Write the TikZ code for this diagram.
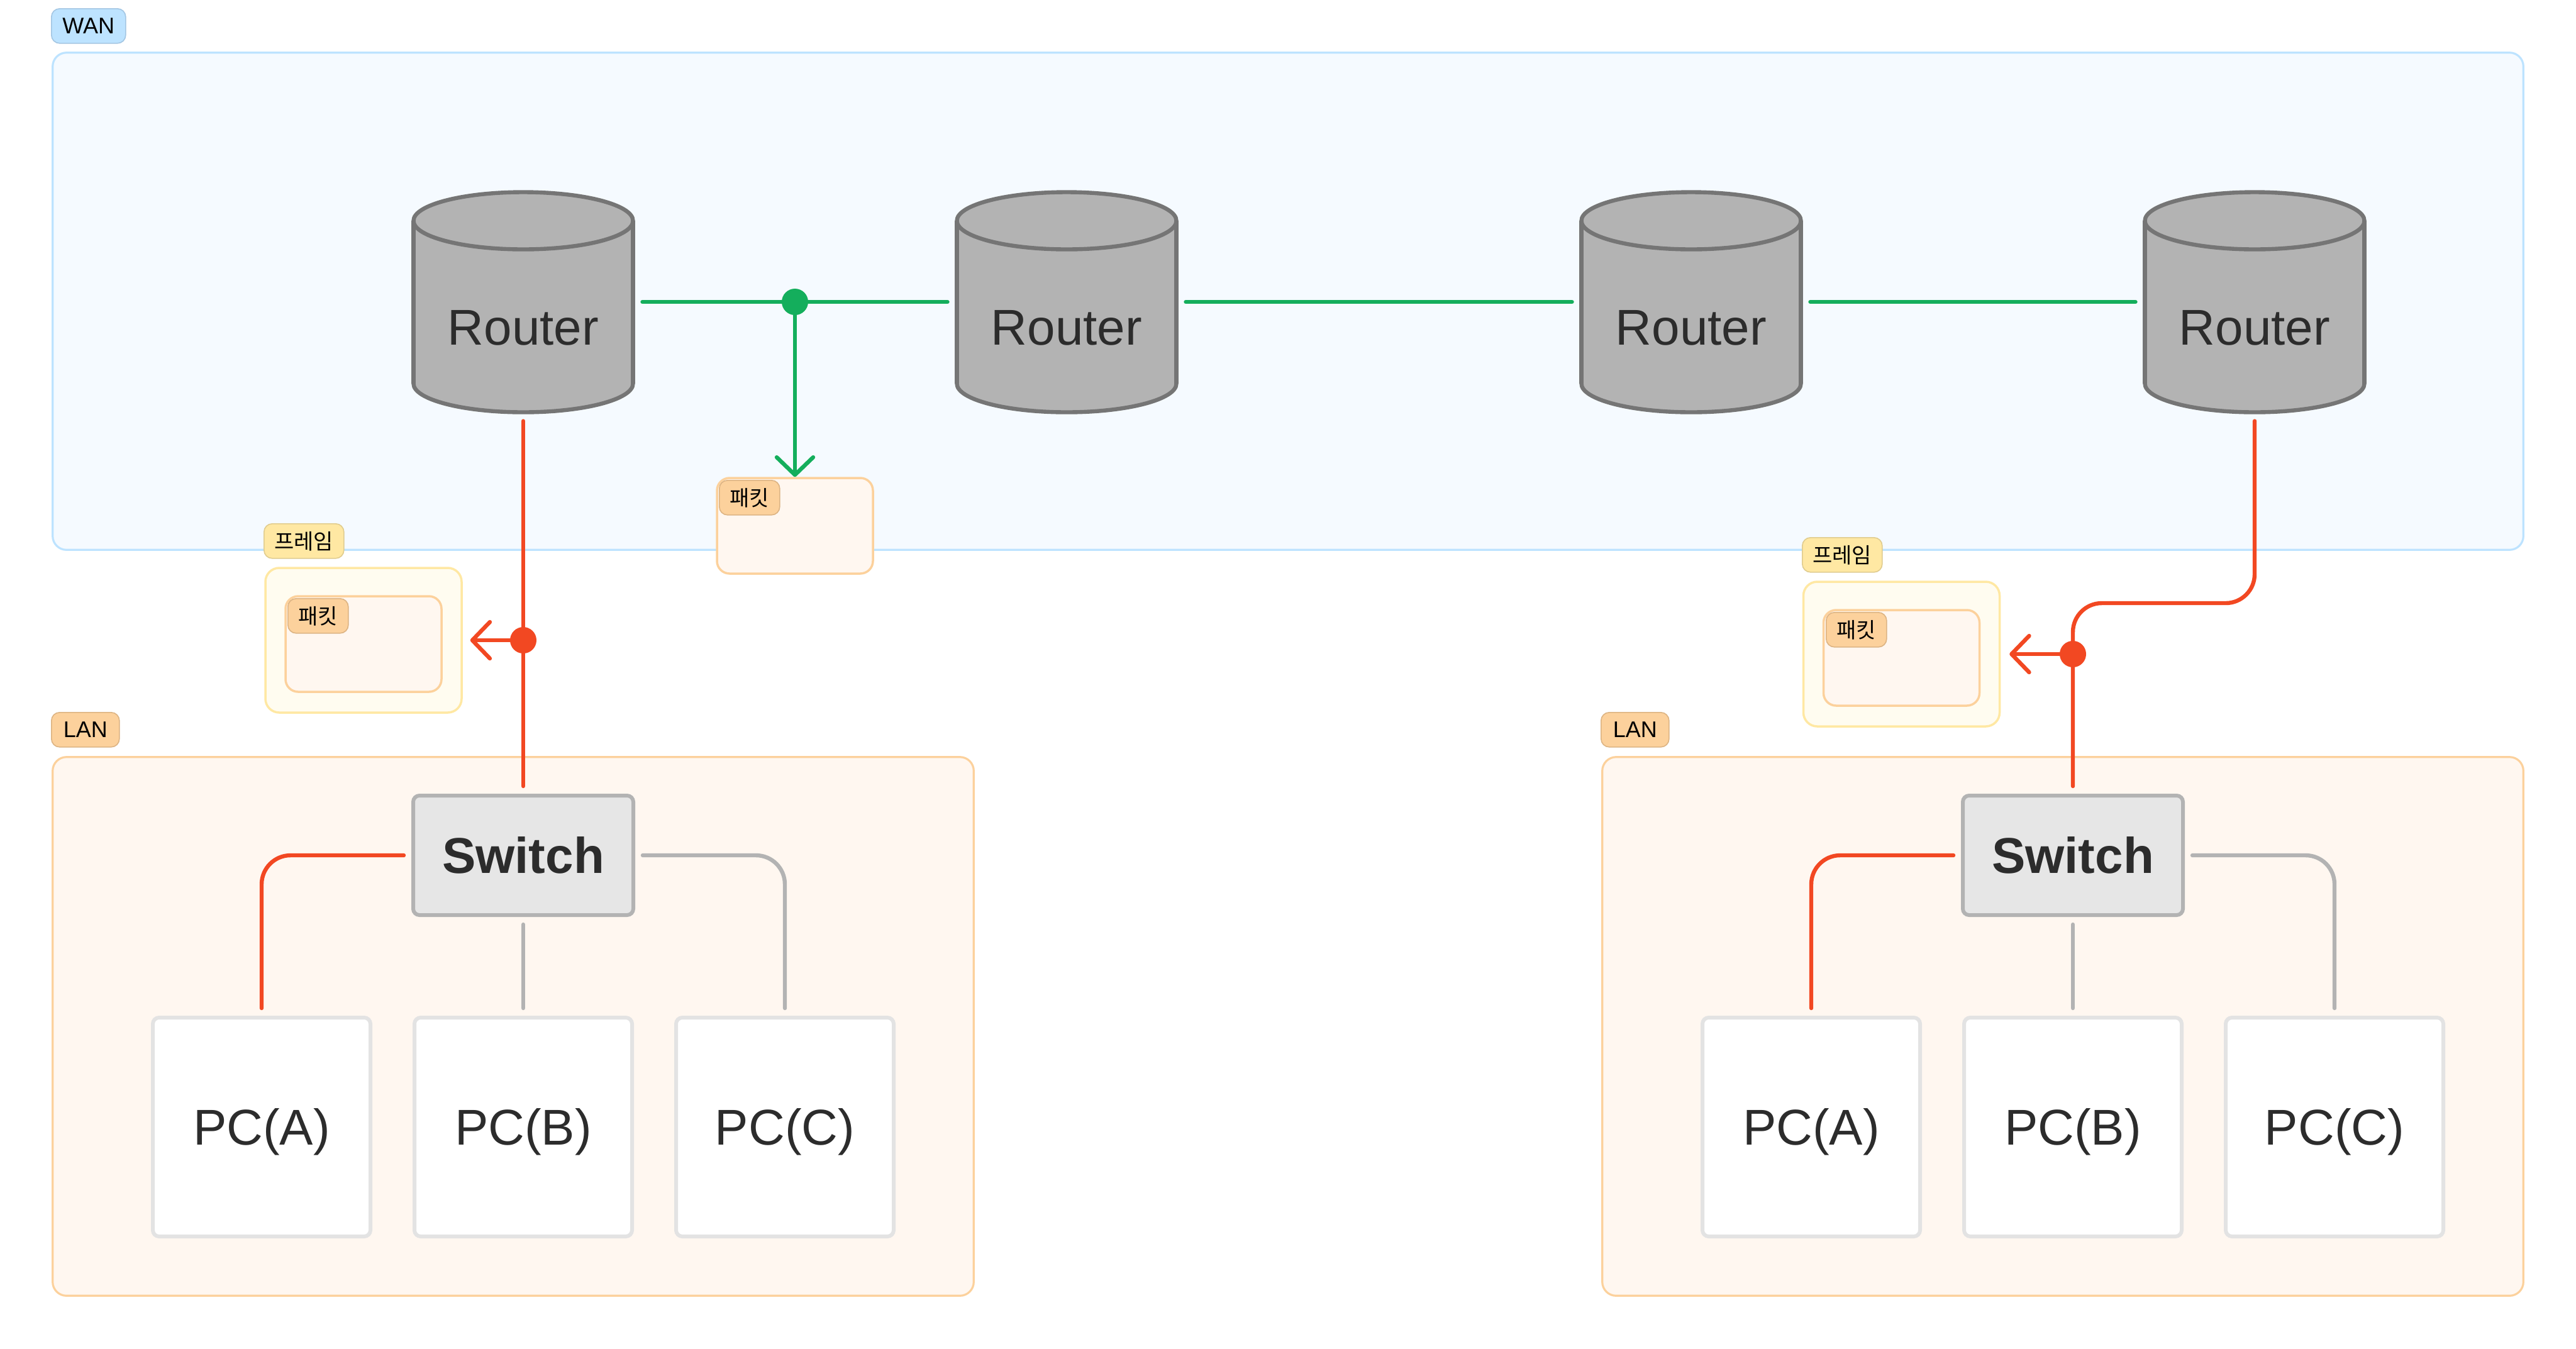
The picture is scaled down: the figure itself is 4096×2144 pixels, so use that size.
\documentclass[tikz,border=0pt]{standalone}
\usepackage{fontspec}
\setmainfont{Liberation Sans}
\newfontfamily\krfont{Noto Sans CJK KR}
\usetikzlibrary{arrows.meta}
\definecolor{wanfill}{HTML}{F5FAFF}
\definecolor{wanline}{HTML}{BDE3FF}
\definecolor{wantagline}{HTML}{A3C6E3}
\definecolor{lanfill}{HTML}{FFF7F0}
\definecolor{lanline}{HTML}{FCD19C}
\definecolor{lantagline}{HTML}{DDB483}
\definecolor{framefill}{HTML}{FFFCF0}
\definecolor{frameline}{HTML}{FFE8A3}
\definecolor{frametagline}{HTML}{E0CC8E}
\definecolor{routerfill}{HTML}{B3B3B3}
\definecolor{routerstroke}{HTML}{757575}
\definecolor{switchfill}{HTML}{E6E6E6}
\definecolor{switchstroke}{HTML}{B3B3B3}
\definecolor{pcstroke}{HTML}{E3E3E3}
\definecolor{linkred}{HTML}{F24822}
\definecolor{linkgreen}{HTML}{14AE5C}
\definecolor{linkgray}{HTML}{B3B3B3}
\definecolor{textdark}{HTML}{2C2C2C}
\newcommand\drawcyl[1]{%
  \begin{scope}[shift={(#1,0)}]
    \fill[routerfill] (-174.5,351) rectangle (174.5,610);
    \fill[routerfill] (0,610) ellipse [x radius=174.5, y radius=45.5];
    \begin{scope}
      \clip (-190,610) rectangle (190,700);
      \draw[cylline] (0,610) ellipse [x radius=174.5, y radius=45.5];
    \end{scope}
    \draw[cylline] (-174.5,351) -- (-174.5,610) (174.5,351) -- (174.5,610);
    \filldraw[cylline, fill=routerfill] (0,351) ellipse [x radius=174.5, y radius=45.5];
  \end{scope}}
\begin{document}
\begin{tikzpicture}[x=0.5pt,y=-0.5pt,
  container/.style={rounded corners=11pt, line width=1.6pt, inner sep=0pt},
  wanbox/.style={container, draw=wanline, fill=wanfill},
  lanbox/.style={container, draw=lanline, fill=lanfill},
  tagbase/.style={rounded corners=6.5pt, line width=0.8pt, inner sep=0pt, minimum height=27.5pt, anchor=north west, text=black, font=\fontsize{18}{20}\selectfont},
  wantag/.style={tagbase, draw=wantagline, fill=wanline},
  lantag/.style={tagbase, draw=lantagline, fill=lanline},
  frametag/.style={tagbase, draw=frametagline, fill=frameline, font=\krfont\fontsize{17}{19}\selectfont},
  pkttag/.style={tagbase, draw=lantagline, fill=lanline, font=\krfont\fontsize{17}{19}\selectfont},
  framebox/.style={draw=frameline, fill=framefill, line width=1.75pt, rounded corners=11pt, inner sep=0pt, minimum width=156pt, minimum height=115pt},
  pktbox/.style={draw=lanline, fill=lanfill, line width=1.75pt, rounded corners=10pt, inner sep=0pt, minimum width=124pt, minimum height=76pt},
  cylline/.style={draw=routerstroke, line width=3.2pt},
  device/.style={line width=3pt, inner sep=0pt, outer sep=7.5pt, text=textdark, font=\fontsize{40}{48}\selectfont, text height=28.6pt, text depth=0pt},
  routerbox/.style={device, minimum width=174.5pt, minimum height=174.5pt},
  routertext/.style={device, outer sep=0pt},
  switchbox/.style={device, draw=switchstroke, fill=switchfill, rounded corners=5pt, minimum width=175pt, minimum height=95pt, font=\bfseries\fontsize{40}{48}\selectfont},
  pcbox/.style={device, draw=pcstroke, fill=white, rounded corners=5pt, minimum width=173pt, minimum height=174pt},
  link/.style={line width=3.2pt, line cap=round},
  gline/.style={link, draw=linkgreen},
  rline/.style={link, draw=linkred},
  grayline/.style={link, draw=linkgray},
  tipped/.style={-{Straight Barb[length=14pt, width=29pt, round]}},
  dotnode/.style={circle, inner sep=0pt, minimum size=21pt}
]
\useasboundingbox (0,0) rectangle (4096,2144);
\fill[white] (0,0) rectangle (4096,2144);

% containers
\node[wanbox, minimum width=1964.3pt, minimum height=395.3pt] (wan) at (2048,479) {};
\node[wantag, minimum width=59pt] (wantg) at (81,13) {WAN};
\node[lanbox, minimum width=732.3pt, minimum height=428.3pt] (lan1) at (816,1632) {};
\node[lantag, minimum width=54pt] (lantg1) at (81,1132) {LAN};
\node[lanbox, minimum width=732.3pt, minimum height=428.3pt] (lan2) at (3280,1632) {};
\node[lantag, minimum width=54pt] (lantg2) at (2545,1132) {LAN};

% routers
\drawcyl{832}\drawcyl{1696}\drawcyl{2689}\drawcyl{3585}
\node[routerbox] (r1) at (832,480) {};
\node[routerbox] (r2) at (1696,480) {};
\node[routerbox] (r3) at (2689,480) {};
\node[routerbox] (r4) at (3585,480) {};
\node[routertext] (r1t) at (832,520) {Router};
\node[routertext] (r2t) at (1696,520) {Router};
\node[routertext] (r3t) at (2689,520) {Router};
\node[routertext] (r4t) at (3585,520) {Router};

% packet in WAN
\node[pktbox] (p0) at (1264,836) {};
\node[pkttag, minimum width=48pt] (pt0) at (1143,763) {패킷};

% frames
\node[framebox] (f1) at (578,1018) {};
\node[frametag, minimum width=63.5pt] (ft1) at (419,832) {프레임};
\node[pktbox] (p1) at (578,1024) {};
\node[pkttag, minimum width=48pt] (pt1) at (457,951) {패킷};

\node[framebox] (f2) at (3023.5,1040) {};
\node[frametag, minimum width=63.5pt] (ft2) at (2865,854) {프레임};
\node[pktbox] (p2) at (3023.5,1046) {};
\node[pkttag, minimum width=48pt] (pt2) at (2903,973) {패킷};

% switches and PCs
\node[switchbox] (sw1) at (832,1360) {Switch};
\node[pcbox] (pa1) at (416,1792) {PC(A)};
\node[pcbox] (pb1) at (832,1792) {PC(B)};
\node[pcbox] (pc1) at (1248,1792) {PC(C)};
\node[switchbox] (sw2) at (3296,1360) {Switch};
\node[pcbox] (pa2) at (2880,1792) {PC(A)};
\node[pcbox] (pb2) at (3296,1792) {PC(B)};
\node[pcbox] (pc2) at (3712,1792) {PC(C)};

% WAN links
\draw[gline] (r1.east) -- (r2.west);
\draw[gline] (r2.east) -- (r3.west);
\draw[gline] (r3.east) -- (r4.west);
\coordinate (gdc) at (1264,480);
\draw[gline, tipped] (gdc) -- (p0.north);
\node[dotnode, fill=linkgreen] (gd) at (gdc) {};

% left uplink
\draw[rline] (r1.south) -- (sw1.north);
\coordinate (rd1c) at (832,1018);
\draw[rline, tipped, shorten >=6pt] (rd1c) -- (f1.east);
\node[dotnode, fill=linkred] (rd1) at (rd1c) {};

% right uplink
\coordinate (rbend) at (3440,959);
\draw[rline, rounded corners=23pt] (r4.south) |- (rbend) -| (sw2.north);
\coordinate (rd2c) at (3296,1040);
\draw[rline, tipped, shorten >=7pt] (rd2c) -- (f2.east);
\node[dotnode, fill=linkred] (rd2) at (rd2c) {};

% LAN links
\draw[rline, rounded corners=23pt] (sw1.west) -| (pa1.north);
\draw[grayline] (sw1.south) -- (pb1.north);
\draw[grayline, rounded corners=23pt] (sw1.east) -| (pc1.north);
\draw[rline, rounded corners=23pt] (sw2.west) -| (pa2.north);
\draw[grayline] (sw2.south) -- (pb2.north);
\draw[grayline, rounded corners=23pt] (sw2.east) -| (pc2.north);
\end{tikzpicture}
\end{document}
